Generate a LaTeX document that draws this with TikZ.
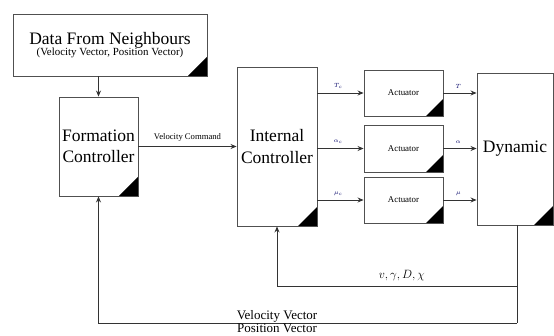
\documentclass[tikz,border=0pt]{standalone}
\usepackage{fontspec}
\setmainfont{Liberation Serif}
\usetikzlibrary{arrows.meta}
\definecolor{boxline}{HTML}{505050}
\definecolor{linecol}{HTML}{333333}
\tikzset{
  blk/.style={draw=boxline, line width=0.9pt, fill=white, inner sep=0pt, align=center,
    path picture={\fill[black] (path picture bounding box.south east) -- ++(-#1,0) -- ++(#1,#1) -- cycle;}},
  blk/.default=19pt,
  arr/.style={draw=linecol, line width=0.8pt, -{Stealth[length=6pt,width=5pt]}},
  ln/.style={draw=linecol, line width=0.8pt},
  big/.style={font=\fontsize{17.5}{21.5}\selectfont},
  tiny/.style={font=\fontsize{6}{7}\selectfont, text=blue!40!black},
}
\begin{document}
\begin{tikzpicture}[x=1pt,y=-1pt]
\useasboundingbox (0,0) rectangle (554,336);
\node[blk, minimum width=194pt, minimum height=62pt] (data) at (110,45)
  {\fontsize{17.5}{19}\selectfont Data From Neighbours\\[-1pt]\fontsize{10.9}{13}\selectfont (Velocity Vector, Position Vector)};
\node[blk, big, minimum width=79pt, minimum height=99pt] (form) at (98.5,146.5) {Formation\\Controller};
\node[blk, big, minimum width=80pt, minimum height=159pt] (int) at (277,146.5) {Internal\\Controller};
\node[blk=17pt, font=\fontsize{8.9}{10}\selectfont, minimum width=79pt, minimum height=46pt] (act1) at (403.5,93) {Actuator};
\node[blk=17pt, font=\fontsize{8.9}{10}\selectfont, minimum width=79pt, minimum height=47pt] (act2) at (403.5,148.5) {Actuator};
\node[blk=17pt, font=\fontsize{8.9}{10}\selectfont, minimum width=79pt, minimum height=46pt] (act3) at (403.5,200) {Actuator};
\node[blk, big, minimum width=76pt, minimum height=152pt] (dyn) at (515,149) {Dynamic};

\draw[arr] (data.south -| form.north) -- (form.north);
\draw[arr] (form.east) -- node[above=1pt, font=\fontsize{8.65}{10}\selectfont] (vc) {Velocity Command} (form.east -| int.west);

\draw[arr] (act1.west -| int.east) -- node[above=1pt, pos=0.45, tiny] (u1) {$T_c$} (act1.west);
\draw[arr] (act2.west -| int.east) -- node[above=1pt, pos=0.45, tiny] (u2) {$\alpha_c$} (act2.west);
\draw[arr] (act3.west -| int.east) -- node[above=1pt, pos=0.45, tiny] (u3) {$\mu_c$} (act3.west);
\draw[arr] (act1.east) -- node[above=1pt, pos=0.45, tiny] (y1) {$T$} (act1.east -| dyn.west);
\draw[arr] (act2.east) -- node[above=1pt, pos=0.45, tiny] (y2) {$\alpha$} (act2.east -| dyn.west);
\draw[arr] (act3.east) -- node[above=1pt, pos=0.45, tiny] (y3) {$\mu$} (act3.east -| dyn.west);

\coordinate (d0) at (517,225);
\coordinate (c1) at (517,286);
\coordinate (c2) at (517,323);
\coordinate (i1) at (277,286);
\coordinate (f1) at (98.5,323);
\draw[ln] (d0) -- (c2);
\draw[arr] (c1) -- node[above=1pt, pos=0.48, font=\fontsize{12}{14}\selectfont] (fbl) {$v, \gamma, D, \chi$} (i1) -- (int.south);
\draw[arr] (c2) -- (f1) -- (form.south);
\node[font=\fontsize{13}{15}\selectfont, anchor=base] (vv) at (277,320) {Velocity Vector};
\node[font=\fontsize{13}{15}\selectfont, anchor=base] (pv) at (277,333) {Position Vector};
\end{tikzpicture}
\end{document}
